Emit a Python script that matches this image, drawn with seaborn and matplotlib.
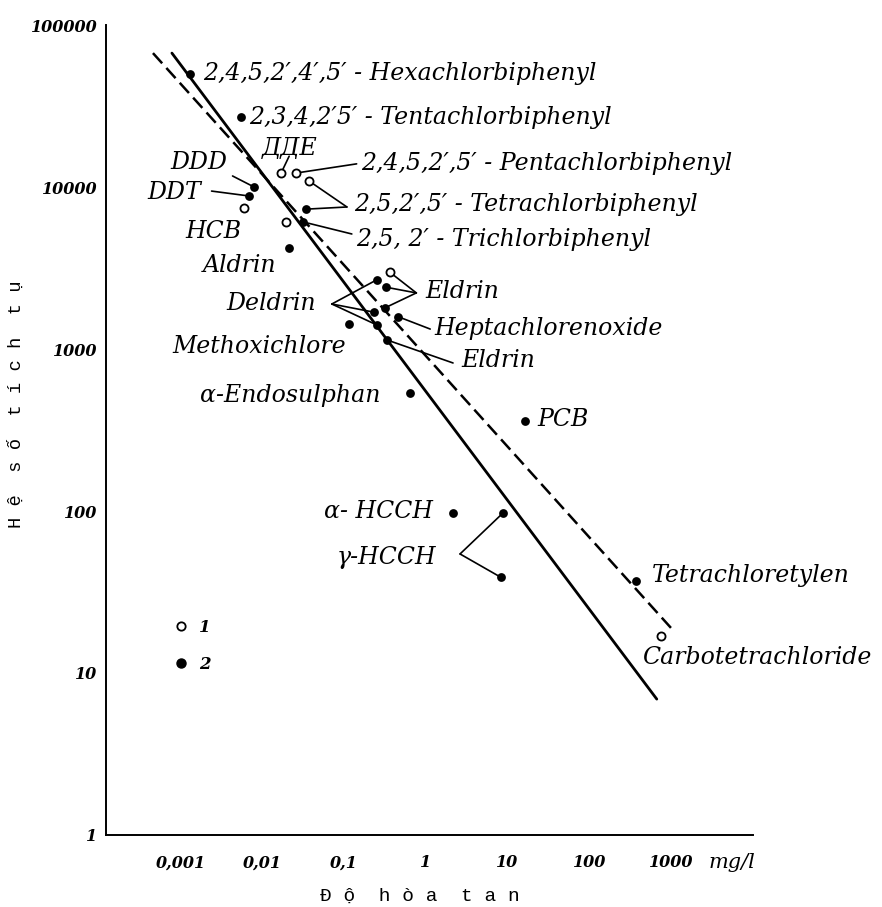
import numpy as np
import pandas as pd
import matplotlib
matplotlib.use("Agg")
import matplotlib.pyplot as plt
from matplotlib.lines import Line2D
from matplotlib.ticker import NullLocator
import seaborn as sns

# measured compounds: solubility (mg/l) vs bioaccumulation factor
# group 1 = open circles, group 2 = filled circles
names = ["hexa", "tenta", "ddd", "ddt", "tetra_f", "tri_f", "aldrin",
         "eld_a", "eld_b", "eld_c", "deld_a", "deld_b", "hepta", "eld2",
         "methoxi", "endo", "pcb", "a_hcch", "g_hcch_a", "g_hcch_b", "tce",
         "dde", "penta", "tetra_o", "hcb", "tri_o", "eld_o", "ccl4"]
solubility = [0.00129, 0.0055, 0.0079, 0.0069, 0.034, 0.031, 0.0212,
              0.249, 0.321, 0.312, 0.229, 0.249, 0.462, 0.330,
              0.114, 0.646, 16.2, 2.15, 8.75, 8.26, 373,
              0.0169, 0.0258, 0.0371, 0.0060, 0.0195, 0.359, 751]
bcf = [50000, 27000, 10000, 8800, 7300, 6100, 4200,
       2670, 2410, 1790, 1690, 1410, 1580, 1140,
       1430, 535, 360, 97, 97, 39, 37,
       12200, 12200, 10900, 7420, 6080, 2990, 16.9]
group = [2] * 21 + [1] * 7

# regression lines (end points)
solid_x = [7.78e-4, 671]
solid_y = [67100, 6.9]
dashed_x = [4.56e-4, 1112]
dashed_y = [67100, 17.9]

x_ticks = [1e-3, 1e-2, 1e-1, 1, 10, 100, 1000, 1e4]
x_ticklabels = ["0,001", "0,01", "0,1", "1", "10", "100", "1000", ""]
y_ticks = [1, 10, 100, 1000, 10000, 100000]
y_ticklabels = ["1", "10", "100", "1000", "10000", "100000"]

# labels: text, x, y (left edge, centre)
labels = [
    ("2,4,5,2′,4′,5′ - Hexachlorbiphenyl", 0.00185, 49900),
    ("2,3,4,2′5′ - Tentachlorbiphenyl", 0.0069, 26700),
    ("2,4,5,2′,5′ - Pentachlorbiphenyl", 0.159, 13900),
    ("2,5,2′,5′ - Tetrachlorbiphenyl", 0.131, 7750),
    ("2,5, 2′ - Trichlorbiphenyl", 0.138, 4710),
    ("ДДЕ", 0.00995, 17400),
    ("DDD", 0.000735, 14100),
    ("DDT", 0.000386, 9310),
    ("HCB", 0.00115, 5350),
    ("Aldrin", 0.00185, 3300),
    ("Eldrin", 0.984, 2250),
    ("Deldrin", 0.00363, 1920),
    ("Heptachlorenoxide", 1.26, 1348),
    ("Methoxichlore", 0.000777, 1030),
    ("Eldrin", 2.70, 855),
    ("α-Endosulphan", 0.0017, 520),
    ("PCB", 23.3, 365),
    ("α- HCCH", 0.0565, 98.6),
    ("γ-HCCH", 0.0813, 52),
    ("Tetrachloretylen", 584, 39.7),
    ("Carbotetrachloride", 442, 12.4),
]

# leader lines: vertex near the label -> points it refers to
leaders = [
    ((0.142, 13900), ["penta"]),
    ((0.108, 7530), ["tetra_o", "tetra_f"]),
    ((0.124, 5130), ["tri_f"]),
    ((0.0212, 15500), ["dde"]),
    ((0.0043, 11700), ["ddd"]),
    ((0.00238, 9440), ["ddt"]),
    ((0.764, 2220), ["eld_o", "eld_b", "eld_c"]),
    ((0.0706, 1896), ["eld_a", "deld_a", "deld_b"]),
    ((1.13, 1328), ["hepta"]),
    ((2.15, 820), ["eld2"]),
    ((2.62, 54.3), ["g_hcch_a", "g_hcch_b"]),
]

points = pd.DataFrame({"name": names, "solubility": solubility,
                       "bcf": bcf, "group": group})

sns.set_theme(style="white")
plt.rcParams["font.family"] = ["DejaVu Serif"]
plt.rcParams["text.color"] = "black"
plt.rcParams["axes.labelcolor"] = "black"
plt.rcParams["xtick.color"] = "black"
plt.rcParams["ytick.color"] = "black"

fig = plt.figure(figsize=(8.82, 9.07), dpi=100)
ax = fig.add_axes([0.1198, 0.0794, 0.7335, 0.893])
ax.set_xscale("log")
ax.set_yscale("log")

sns.lineplot(x=solid_x, y=solid_y, color="black", linewidth=2.0,
             sort=False, estimator=None, ax=ax)
sns.lineplot(x=dashed_x, y=dashed_y, color="black", linewidth=1.8,
             linestyle=(0, (5.5, 2.5)), sort=False, estimator=None, ax=ax)

pos = points.set_index("name")
for (vx, vy), targets in leaders:
    for t in targets:
        ax.plot([vx, pos.loc[t, "solubility"]], [vy, pos.loc[t, "bcf"]],
                color="black", linewidth=1.2, zorder=3)

sns.scatterplot(data=points[points.group == 2], x="solubility", y="bcf",
                color="black", s=40, linewidth=0, ax=ax, zorder=5, legend=False)
sns.scatterplot(data=points[points.group == 1], x="solubility", y="bcf",
                facecolor="white", edgecolor="black", linewidth=1.3, s=34,
                ax=ax, zorder=5, legend=False)

for txt, lx, ly in labels:
    ax.text(lx, ly, txt, fontsize=17, style="italic", ha="left", va="center",
            color="black", zorder=6)

ax.set_xlim(10 ** -3.92, 1e4)
ax.set_ylim(1, 1e5)
ax.set_xticks(x_ticks)
ax.set_xticklabels(x_ticklabels, style="italic", fontsize=11.5, weight="bold")
ax.set_yticks(y_ticks)
ax.set_yticklabels(y_ticklabels, style="italic", fontsize=11.5, weight="bold")
ax.xaxis.set_minor_locator(NullLocator())
ax.yaxis.set_minor_locator(NullLocator())
ax.tick_params(axis="x", direction="in", length=8, width=1.3, pad=14, colors="black")
ax.tick_params(axis="y", direction="in", length=8, width=1.3, pad=6, colors="black")
for side in ["top", "right"]:
    ax.spines[side].set_visible(False)
for side in ["left", "bottom"]:
    ax.spines[side].set_color("black")
    ax.spines[side].set_linewidth(1.4)

fig.text(709 / 882, 1 - 862 / 907, "mg/l", fontsize=15, style="italic",
         ha="left", va="center", color="black")

ax.set_xlabel("Đ ộ  h ò a  t a n", fontsize=14, color="black",
              family=["Liberation Mono", "DejaVu Sans Mono"])
ax.xaxis.set_label_coords(0.486, -0.065)
ax.set_ylabel("H ệ  s ố  t í c h  t ụ", fontsize=13.5, color="black",
              family=["Liberation Mono", "DejaVu Sans Mono"])
ax.yaxis.set_label_coords(-0.125, 0.532)

handles = [Line2D([], [], marker="o", ls="", mfc="white", mec="black", ms=6, mew=1.3),
           Line2D([], [], marker="o", ls="", mfc="black", mec="black", ms=6.5)]
leg = ax.legend(handles, ["1", "2"], loc="upper left", bbox_to_anchor=(0.0905, 0.277),
                frameon=False, borderpad=0, handlelength=1.0, handletextpad=0.6,
                labelspacing=1.2, prop={"style": "italic", "size": 12, "weight": "bold"})
for t in leg.get_texts():
    t.set_color("black")

fig.savefig("out.png", dpi=100)
